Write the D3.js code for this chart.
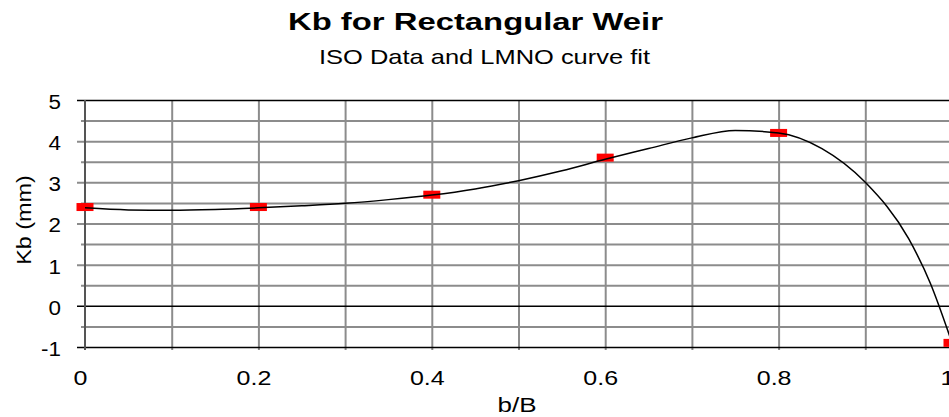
<!DOCTYPE html>
<html>
<head>
<meta charset="utf-8">
<script src="https://cdn.jsdelivr.net/npm/d3@7"></script>
<style>
  body { margin: 0; background: #fff; }
  text { font-family: "Liberation Sans", Arial, sans-serif; fill: #000; }
</style>
</head>
<body>
<div id="chart"></div>
<script>
// ISO data points
var isoX = [0, 0.2, 0.4, 0.6, 0.8, 1.0];
var isoKb = [2.4, 2.4, 2.7, 3.6, 4.2, -0.9];

// LMNO curve fit
var fitX = [0, 0.05, 0.1, 0.15, 0.2, 0.25, 0.3, 0.35, 0.4, 0.45, 0.5, 0.55, 0.6, 0.65, 0.7, 0.75, 0.8, 0.85, 0.9, 0.95, 0.975, 1.0];
var fitKb = [2.38, 2.33, 2.32, 2.34, 2.38, 2.43, 2.49, 2.58, 2.69, 2.84, 3.04, 3.28, 3.56, 3.82, 4.08, 4.26, 4.2, 3.82, 3.0, 1.63, 0.55, -0.9];

var xTicks = [0, 0.2, 0.4, 0.6, 0.8, 1];
var xTickLabels = ["0", "0.2", "0.4", "0.6", "0.8", "1"];
var yTicks = [-1, 0, 1, 2, 3, 4, 5];
var yTickLabels = ["-1", "0", "1", "2", "3", "4", "5"];

var W = 949, H = 417;
var margin = { top: 100, right: -3, bottom: 70, left: 85 };
var width = W - margin.left - margin.right,
    height = H - margin.top - margin.bottom;

var svg = d3.select("#chart").append("svg")
    .attr("width", W)
    .attr("height", H);

// stretch a text selection horizontally (source font renders wide)
function stretch(sel, k) {
    sel.each(function() {
        var len = this.getComputedTextLength();
        d3.select(this).attr("textLength", len * k).attr("lengthAdjust", "spacingAndGlyphs");
    });
}

svg.append("text")
    .attr("x", 475.5).attr("y", 30)
    .attr("text-anchor", "middle")
    .style("font-size", "24px").style("font-weight", "bold")
    .attr("textLength", 375).attr("lengthAdjust", "spacingAndGlyphs")
    .text("Kb for Rectangular Weir");

svg.append("text")
    .attr("x", 484.5).attr("y", 64)
    .attr("text-anchor", "middle")
    .style("font-size", "21px")
    .attr("textLength", 331).attr("lengthAdjust", "spacingAndGlyphs")
    .text("ISO Data and LMNO curve fit");

var g = svg.append("g")
    .attr("transform", "translate(" + margin.left + "," + margin.top + ")");

var x = d3.scaleLinear().domain([0, 1]).range([0, width]);
var y = d3.scaleLinear().domain([-1, 5]).range([height, 0]);

// vertical grid
g.append("g")
    .attr("class", "grid-x")
    .attr("transform", "translate(0," + height + ")")
    .call(d3.axisBottom(x).tickValues(d3.range(1, 11).map(function(d) { return d / 10; }))
        .tickSize(-height).tickFormat(""))
    .call(function(a) {
        a.select(".domain").remove();
        a.selectAll("line").attr("stroke", "#8c8c8c").attr("stroke-width", 2)
            .attr("y1", 3);
    });

// horizontal grid, every 0.5
var hGrid = d3.range(-2, 11).map(function(d) { return d / 2; });
g.append("g")
    .attr("class", "grid-y")
    .call(d3.axisLeft(y).tickValues(hGrid).tickSize(-width).tickFormat(""))
    .call(function(a) {
        a.select(".domain").remove();
        a.selectAll("line")
            .attr("stroke", function(d) { return (d === 5 || d === 0 || d === -1) ? "#000" : "#8c8c8c"; })
            .attr("stroke-width", function(d) { return (d === 5 || d === 0 || d === -1) ? 1.5 : 2; })
            .attr("x1", function(d) { return Number.isInteger(d) ? -8 : -4; });
    });

// left axis line
g.append("line")
    .attr("x1", 0).attr("x2", 0)
    .attr("y1", 0).attr("y2", height + 3)
    .attr("stroke", "#555").attr("stroke-width", 2);

// y tick labels
var yAxis = g.append("g")
    .call(d3.axisLeft(y).tickValues(yTicks).tickSize(0).tickPadding(24)
        .tickFormat(function(d, i) { return yTickLabels[i]; }));
yAxis.select(".domain").remove();
yAxis.selectAll("text")
    .style("font-size", "20px").style("font-family", "Liberation Sans, Arial, sans-serif")
    .attr("dy", "0.42em")
    .call(stretch, 1.12);

// x tick labels (sit a little left of their ticks, like the source)
var xAxis = g.append("g")
    .attr("transform", "translate(0," + height + ")")
    .call(d3.axisBottom(x).tickValues(xTicks).tickSize(0).tickPadding(24)
        .tickFormat(function(d, i) { return xTickLabels[i]; }));
xAxis.select(".domain").remove();
xAxis.selectAll("text")
    .style("font-size", "20px").style("font-family", "Liberation Sans, Arial, sans-serif")
    .attr("dx", -5)
    .call(stretch, 1.25);

// axis titles
var xTitle = svg.append("text")
    .attr("x", 517).attr("y", 412)
    .attr("text-anchor", "middle")
    .style("font-size", "20px")
    .text("b/B");
stretch(xTitle, 1.3);

var yTitle = svg.append("text")
    .attr("transform", "translate(31,220) rotate(-90)")
    .attr("text-anchor", "middle")
    .style("font-size", "20px")
    .text("Kb (mm)");
stretch(yTitle, 1.17);

// ISO markers
g.selectAll("rect.iso")
    .data(isoX)
    .enter().append("rect")
    .attr("class", "iso")
    .attr("x", function(d) { return x(d) - 8.5; })
    .attr("y", function(d, i) { return y(isoKb[i]) - 4; })
    .attr("width", 17)
    .attr("height", 8)
    .attr("fill", "#ff0000");

// fit curve
var line = d3.line()
    .x(function(d) { return x(d); })
    .y(function(d, i) { return y(fitKb[i]); })
    .curve(d3.curveMonotoneX);

g.append("path")
    .datum(fitX)
    .attr("fill", "none")
    .attr("stroke", "#000")
    .attr("stroke-width", 1.5)
    .attr("d", line);
</script>
</body>
</html>
